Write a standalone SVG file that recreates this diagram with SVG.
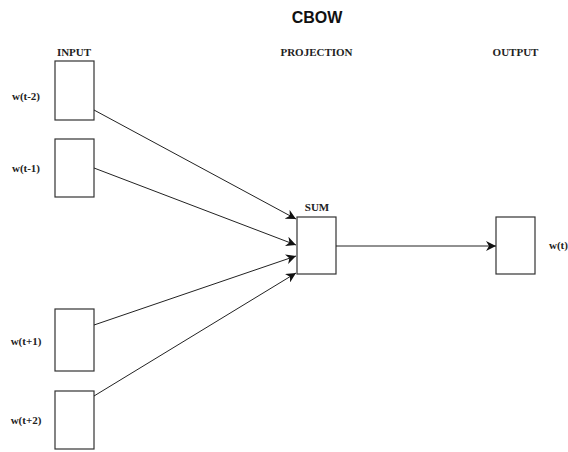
<svg xmlns="http://www.w3.org/2000/svg" width="568" height="452" viewBox="0 0 568 452">
<style>
.box{fill:#fff;stroke:#333;stroke-width:1.2}
.lbl{font-family:"Liberation Serif",serif;font-weight:bold;font-size:11px;fill:#222}
.title{font-family:"Liberation Sans",Arial,sans-serif;font-weight:bold;font-size:16px;fill:#111}
.edge{stroke:#222;stroke-width:1;fill:none;marker-end:url(#arr)}
</style>
<defs>
<marker id="arr" viewBox="0 0 10 10" refX="10" refY="5" markerWidth="10" markerHeight="10" markerUnits="userSpaceOnUse" orient="auto">
<path d="M0,0 L10,5 L0,10 L3,5 z" fill="#111"/>
</marker>
</defs>
<rect width="568" height="452" fill="#fff"/>
<text class="title" x="317" y="23" text-anchor="middle">CBOW</text>
<text class="lbl" x="74" y="56" text-anchor="middle">INPUT</text>
<text class="lbl" x="316.5" y="56" text-anchor="middle">PROJECTION</text>
<text class="lbl" x="515.5" y="56" text-anchor="middle">OUTPUT</text>
<g id="in1"><rect class="box" x="55" y="61" width="39" height="59"/><text class="lbl" x="26" y="100" text-anchor="middle">w(t-2)</text></g>
<g id="in2"><rect class="box" x="55" y="139" width="39" height="58"/><text class="lbl" x="26" y="172" text-anchor="middle">w(t-1)</text></g>
<g id="in3"><rect class="box" x="55" y="309" width="39" height="62"/><text class="lbl" x="26" y="345" text-anchor="middle">w(t+1)</text></g>
<g id="in4"><rect class="box" x="55" y="391" width="39" height="58"/><text class="lbl" x="26" y="424" text-anchor="middle">w(t+2)</text></g>
<g id="sum"><rect class="box" x="297" y="217" width="39" height="57"/><text class="lbl" x="317" y="211" text-anchor="middle">SUM</text></g>
<g id="out"><rect class="box" x="496" y="217" width="39" height="57"/><text class="lbl" x="549" y="249">w(t)</text></g>
<g id="connectors">
<line class="edge" x1="94" y1="110" x2="296" y2="219"/>
<line class="edge" x1="94" y1="168" x2="296" y2="245"/>
<line class="edge" x1="94" y1="325" x2="296" y2="256"/>
<line class="edge" x1="94" y1="396" x2="296" y2="273"/>
<line class="edge" x1="336" y1="246" x2="496" y2="246"/>
</g>
</svg>
